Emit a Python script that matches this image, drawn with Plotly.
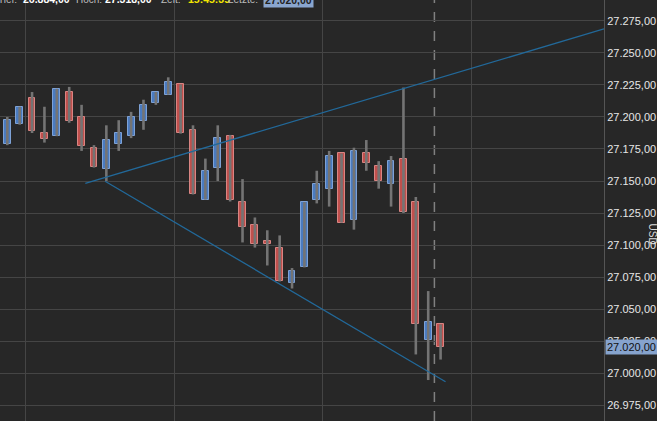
import plotly.graph_objects as go

# ---- data ----
candle_idx = list(range(36))
opens  = [27179, 27194.5, 27215, 27187.5, 27185.5, 27219.5, 27200, 27176, 27159.5, 27179,
          27185, 27197, 27211, 27217.5, 27225.5, 27190, 27135.5, 27160, 27185.5, 27133.5,
          27115.5, 27103.5, 27097.5, 27070, 27083, 27135.5, 27143.5, 27171.5, 27119.5, 27171.5,
          27161.5, 27147.5, 27167.5, 27133.5, 27025.5, 27038]
highs  = [27200, 27208, 27219.5, 27208, 27222, 27223.5, 27209.5, 27178, 27193.5, 27197.5,
          27204, 27213.5, 27219.5, 27231, 27225.5, 27193.5, 27167.5, 27193.5, 27186, 27151.5,
          27121.5, 27111.5, 27107.5, 27082, 27133.5, 27158, 27173.5, 27171.5, 27176, 27182,
          27165.5, 27169.5, 27223, 27137.5, 27064, 27038]
lows   = [27178, 27194, 27187.5, 27180, 27185, 27195.5, 27173.5, 27160.5, 27150, 27173.5,
          27183.5, 27190, 27209.5, 27217.5, 27187, 27139.5, 27135.5, 27150, 27134, 27102,
          27098, 27084, 27071.5, 27066, 27082.5, 27132.5, 27130, 27117.5, 27112, 27158,
          27144, 27130, 27125, 27014.5, 26994.5, 27010.5]
closes = [27198, 27207.5, 27189, 27183, 27221.5, 27196.5, 27177.5, 27161, 27182, 27187.5,
          27200, 27209, 27219.5, 27227, 27187.5, 27139.5, 27157.5, 27183.5, 27135.5, 27114,
          27101, 27101, 27071.5, 27079.5, 27133.5, 27147.5, 27169.5, 27117.5, 27173.5, 27164,
          27150, 27165.5, 27125.5, 27038.5, 27039.5, 27020]

# trendlines (x in candle index units, y in price)
upper_x = [6.3, 48.2]
upper_y = [27148.2, 27268.8]
lower_x = [7.9, 35.4]
lower_y = [27149.8, 26993.2]

session_break = 34.5
last_price = 27020

ytick_vals = [26975, 27000, 27025, 27050, 27075, 27100, 27125, 27150, 27175, 27200, 27225, 27250, 27275]
ytick_text = ["26.975,00", "27.000,00", "27.025,00", "27.050,00", "27.075,00", "27.100,00",
              "27.125,00", "27.150,00", "27.175,00", "27.200,00", "27.225,00", "27.250,00", "27.275,00"]
last_text = "27.020,00"
header_labels = ["Tief:", "Hoch:", "Zeit:", "Letzte:"]
header_values = ["26.884,00", "27.318,00", "15:45:35", "27.020,00"]

# ---- styling ----
BG = "#272727"
GRID = "#454545"
UP_FILL, UP_LINE = "#4a7bc0", "#7ea2d6"
DN_FILL, DN_LINE = "#c0504d", "#d98583"
WICK = "#747474"
TREND = "#22699a"
FONT = "Liberation Sans, Arial"
PLOT_W = 604.5

fig = go.Figure()

# wicks
wx, wy = [], []
for i, h, l in zip(candle_idx, highs, lows):
    wx += [i, i, None]
    wy += [l, h, None]
fig.add_trace(go.Scatter(x=wx, y=wy, mode="lines", line=dict(color=WICK, width=2.6),
                         hoverinfo="skip", showlegend=False))

# bodies
up = [c >= o for o, c in zip(opens, closes)]
fig.add_trace(go.Bar(
    x=candle_idx,
    y=[max(abs(c - o), 0.6) for o, c in zip(opens, closes)],
    base=[min(o, c) for o, c in zip(opens, closes)],
    width=0.55,
    marker=dict(color=[UP_FILL if u else DN_FILL for u in up],
                line=dict(color=[UP_LINE if u else DN_LINE for u in up], width=1)),
    showlegend=False, hoverinfo="skip"))

# trendlines
fig.add_trace(go.Scatter(x=upper_x, y=upper_y, mode="lines", line=dict(color=TREND, width=1.3),
                         showlegend=False, hoverinfo="skip"))
fig.add_trace(go.Scatter(x=lower_x, y=lower_y, mode="lines", line=dict(color=TREND, width=1.3),
                         showlegend=False, hoverinfo="skip"))

fig.add_shape(type="line", xref="x", yref="paper", x0=session_break, x1=session_break, y0=0, y1=1,
              line=dict(color="#808080", width=1.5, dash="10px,9px"), layer="below")

fig.update_layout(
    width=657, height=421,
    margin=dict(l=0, r=657 - PLOT_W, t=0, b=0),
    paper_bgcolor=BG, plot_bgcolor=BG,
    bargap=0,
    xaxis=dict(range=[-0.59, 48.2], tick0=1.5, dtick=12, showticklabels=False, ticks="",
               showgrid=True, gridcolor=GRID, gridwidth=1, zeroline=False, fixedrange=True),
    yaxis=dict(range=[26962.5, 27291.4], side="right", tickvals=ytick_vals, ticktext=ytick_text,
               showgrid=True, gridcolor=GRID, gridwidth=1, zeroline=False, ticks="",
               showline=True, linecolor="#555555", linewidth=1,
               tickfont=dict(family=FONT, size=11, color="#e6e6e6")),
)

# header (cut off at top edge as in the reference)
label_px = [-4, 74, 159, 226]
value_px = [21, 103, 186, 263]
value_colors = ["#ffffff", "#ffffff", "#f2e600", "#222222"]
for k in range(4):
    fig.add_annotation(xref="paper", yref="paper", x=label_px[k] / PLOT_W, y=1, xanchor="left",
                       yanchor="middle", yshift=1, text=header_labels[k], showarrow=False,
                       font=dict(family=FONT, size=10, color="#bdbdbd"))
    fig.add_annotation(xref="paper", yref="paper", x=value_px[k] / PLOT_W, y=1, xanchor="left",
                       yanchor="middle", yshift=(0 if k == 3 else 1), text="<b>%s</b>" % header_values[k],
                       showarrow=False, bgcolor=("#8aa6cf" if k == 3 else None), borderpad=1,
                       font=dict(family=FONT, size=10.5, color=value_colors[k]))

# last price box on axis
fig.add_annotation(xref="paper", yref="y", x=1, y=last_price, xanchor="left", yanchor="middle",
                   xshift=1, text=last_text, showarrow=False, bgcolor="#86a3cd", borderpad=1,
                   font=dict(family=FONT, size=11, color="#111111"))

# unit label
fig.add_annotation(xref="paper", yref="paper", x=653 / PLOT_W, y=1 - 234 / 421, xanchor="center",
                   yanchor="middle", text="USD", textangle=90, showarrow=False,
                   font=dict(family=FONT, size=10, color="#dddddd"))

fig.write_html("out.html", config={"displayModeBar": False},
               post_script="document.body.style.margin='0';document.body.style.background='%s';" % BG)
